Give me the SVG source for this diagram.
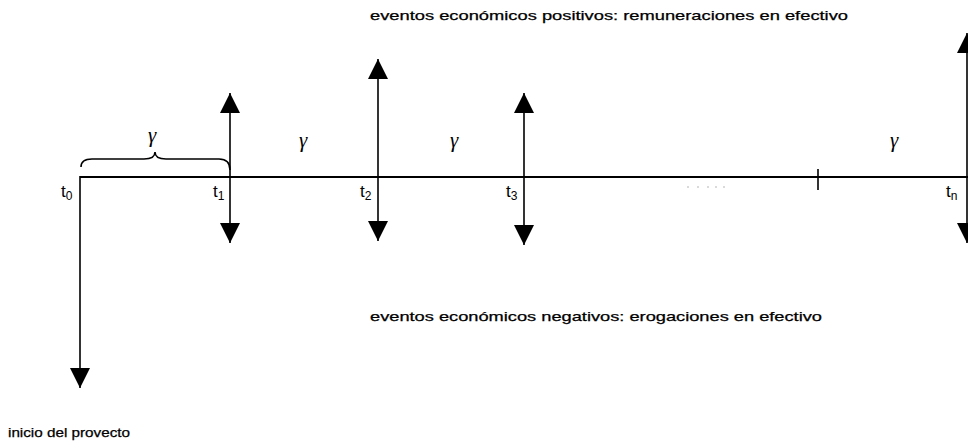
<svg xmlns="http://www.w3.org/2000/svg" width="968" height="441" viewBox="0 0 968 441">
<style>
.ax{stroke:#000;stroke-width:2.2;fill:none}
.v{stroke:#000;stroke-width:1.6;fill:none}
.lbl{font-family:"Liberation Sans",Arial,sans-serif;font-size:17px;fill:#000}
.sub{font-size:12px}
.g{font-family:"Liberation Serif","Times New Roman",serif;font-style:italic;font-size:21px;fill:#000}
.cap{font-family:"Liberation Sans",Arial,sans-serif;font-size:13px;fill:#000;stroke:#000;stroke-width:0.25}
</style>
<defs>
<marker id="ah" viewBox="0 0 20 20" refX="20" refY="10" markerWidth="20" markerHeight="20" markerUnits="userSpaceOnUse" orient="auto-start-reverse">
<path d="M0,0 L20,10 L0,20 z" fill="#000"/>
</marker>
</defs>
<rect width="968" height="441" fill="#fff"/>
<g id="connectors">
<line class="ax" x1="80" y1="177" x2="968" y2="177"/>
<line class="v" x1="80" y1="176" x2="80" y2="388" marker-end="url(#ah)"/>
<line class="v" x1="230" y1="93" x2="230" y2="243" marker-start="url(#ah)" marker-end="url(#ah)"/>
<line class="v" x1="378" y1="59" x2="378" y2="241" marker-start="url(#ah)" marker-end="url(#ah)"/>
<line class="v" x1="524" y1="93" x2="524" y2="245" marker-start="url(#ah)" marker-end="url(#ah)"/>
<line class="v" x1="967" y1="33" x2="967" y2="243" marker-start="url(#ah)" marker-end="url(#ah)"/>
<line class="v" x1="818" y1="169" x2="818" y2="190"/>
<path class="v" d="M81,167 Q81,159 92,159 L144,159 Q155,159 155,152 Q155,159 166,159 L219,159 Q230,159 230,170"/>
</g>
<g id="t0"><text class="lbl" x="61" y="197">t<tspan class="sub" dy="3">0</tspan></text></g>
<g id="t1"><text class="lbl" x="213" y="197">t<tspan class="sub" dy="3">1</tspan></text></g>
<g id="t2"><text class="lbl" x="360" y="197">t<tspan class="sub" dy="3">2</tspan></text></g>
<g id="t3"><text class="lbl" x="506" y="197">t<tspan class="sub" dy="3">3</tspan></text></g>
<g id="tn"><text class="lbl" x="946" y="197">t<tspan class="sub" dy="3">n</tspan></text></g>
<g id="gammas">
<text class="g" x="148" y="142">γ</text>
<text class="g" x="299" y="147">γ</text>
<text class="g" x="450" y="147">γ</text>
<text class="g" x="890" y="147">γ</text>
</g>
<g id="ellipsis" fill="#999">
<circle cx="688" cy="187" r="0.7"/><circle cx="698" cy="187" r="0.7"/><circle cx="708" cy="187" r="0.7"/><circle cx="716" cy="187" r="0.7"/><circle cx="724" cy="187" r="0.7"/>
</g>
<g id="captions">
<text class="cap" x="370" y="20" textLength="478" lengthAdjust="spacingAndGlyphs">eventos económicos positivos: remuneraciones en efectivo</text>
<text class="cap" x="370" y="321" textLength="452" lengthAdjust="spacingAndGlyphs">eventos económicos negativos: erogaciones en efectivo</text>
<text class="cap" x="8" y="437" textLength="122" lengthAdjust="spacingAndGlyphs">inicio del provecto</text>
</g>
</svg>
